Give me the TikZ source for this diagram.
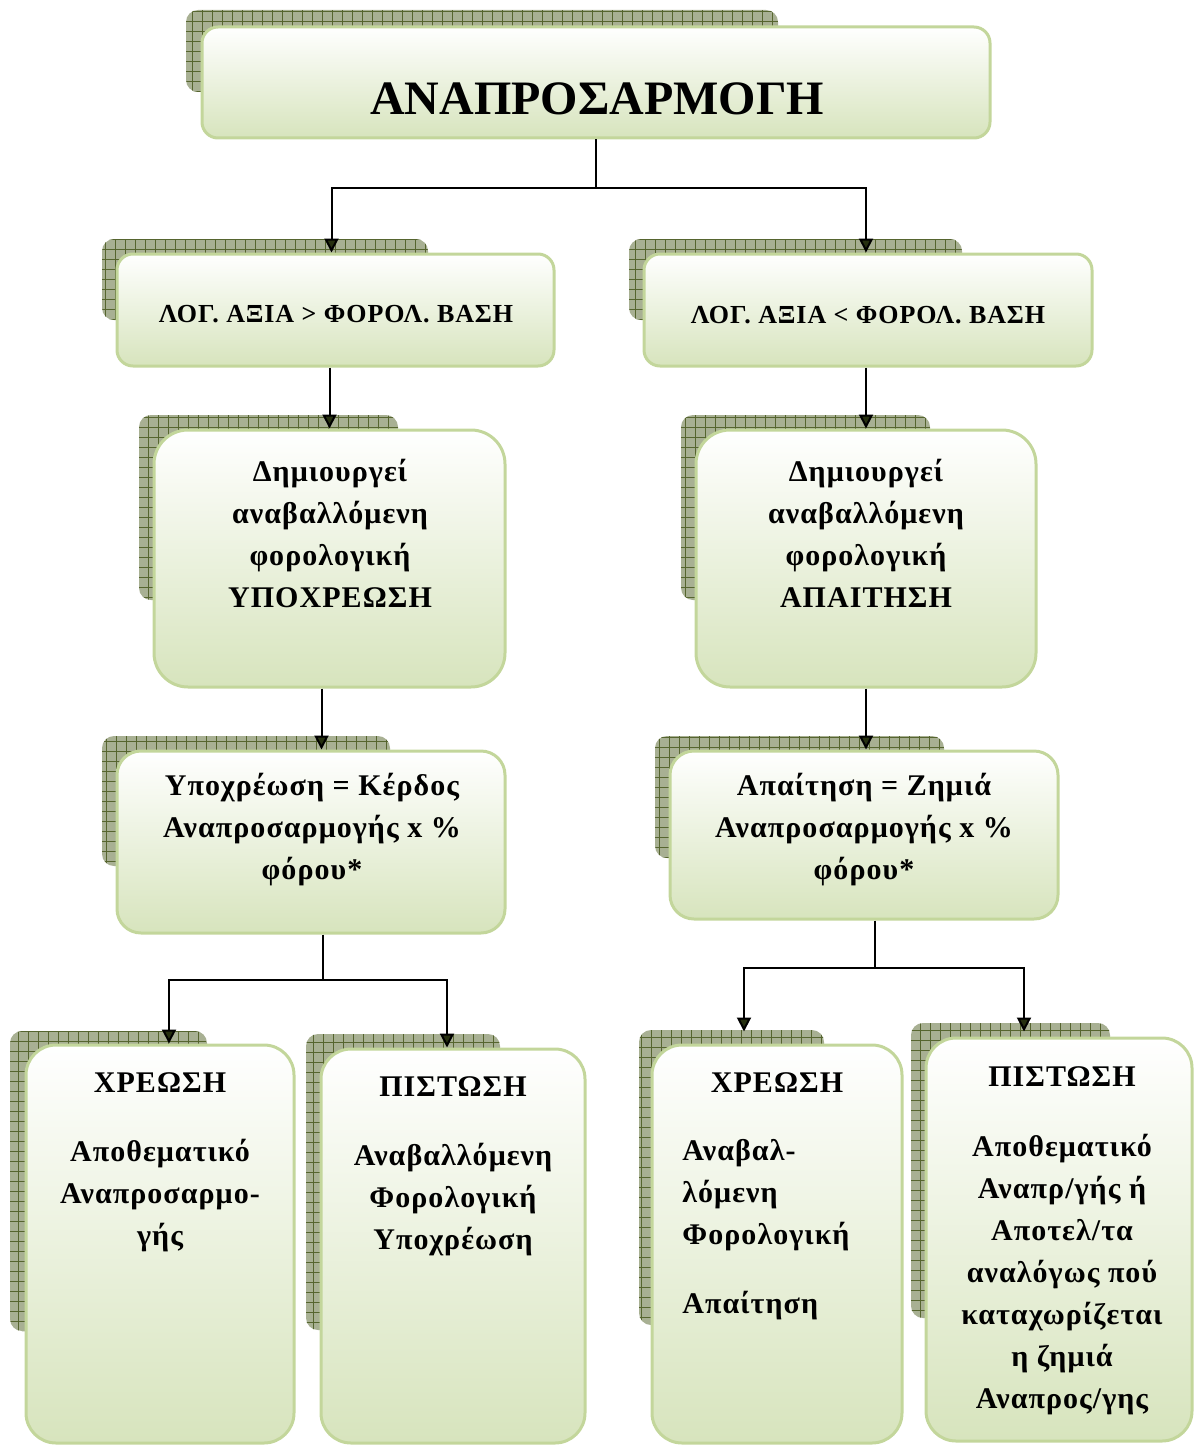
\documentclass[tikz,border=0pt]{standalone}
\usepackage{fontspec}
\setmainfont{Liberation Serif}
\newfontfamily\spaced[LetterSpace=3.5]{Liberation Serif}
\usetikzlibrary{arrows.meta,calc}

\definecolor{boxgreen}{HTML}{D7E4BD}
\definecolor{boxline}{HTML}{C3D69B}
\definecolor{shadowfill}{HTML}{A8B093}
\definecolor{shadowgrid}{HTML}{56652F}
\definecolor{tipcol}{HTML}{263010}

\tikzset{
  panel/.style={draw=boxline, line width=1.5pt, top color=white, bottom color=boxgreen, rounded corners=#1},
  panel/.default=8pt,
  backdrop/.style={fill=shadowfill, rounded corners=6pt,
    path picture={\draw[shadowgrid, line width=0.35pt] (path picture bounding box.south west) grid[step=5pt] (path picture bounding box.north east);}},
  txt/.style={font=\spaced\bfseries\fontsize{15}{21}\selectfont, align=center, inner sep=0pt},
  arr/.style={line width=1pt, -{Triangle[width=7pt,length=7pt,fill=tipcol]}}
}

\begin{document}
\begin{tikzpicture}[x=0.5pt, y=-0.5pt]
\useasboundingbox (0,0) rectangle (1194,1445);

% top level
\node[backdrop, minimum width=296pt, minimum height=41pt] (sTop) at (482,51) {};
\node[panel, minimum width=394pt, minimum height=55.5pt] (top) at (596,82.5) {};
\node[txt, font=\rmfamily\bfseries\fontsize{24}{28}\selectfont] (tTop) at (597,99) {ΑΝΑΠΡΟΣΑΡΜΟΓΗ};

% comparison
\node[backdrop, minimum width=163pt, minimum height=40.5pt] (sL1) at (265,279.5) {};
\node[panel, minimum width=218.5pt, minimum height=56pt] (L1) at (335.5,310) {};
\node[txt, font=\spaced\bfseries\fontsize{13}{15}\selectfont] (tL1) at (336,314) {ΛΟΓ. ΑΞΙΑ > ΦΟΡΟΛ. ΒΑΣΗ};

\node[backdrop, minimum width=166.5pt, minimum height=40.5pt] (sR1) at (795.5,279.5) {};
\node[panel, minimum width=224pt, minimum height=56pt] (R1) at (868,310) {};
\node[txt, font=\spaced\bfseries\fontsize{13}{15}\selectfont] (tR1) at (868,315) {ΛΟΓ. ΑΞΙΑ < ΦΟΡΟΛ. ΒΑΣΗ};

% deferred tax
\node[backdrop, minimum width=129.5pt, minimum height=92.5pt] (sL2) at (268.5,507.5) {};
\node[panel=17pt, minimum width=175.5pt, minimum height=128.5pt] (L2) at (329.5,558.5) {};
\node[txt] (tL2) at (330,533) {Δημιουργεί\\αναβαλλόμενη\\φορολογική\\ΥΠΟΧΡΕΩΣΗ};

\node[backdrop, minimum width=124.5pt, minimum height=92.5pt] (sR2) at (805.5,507.5) {};
\node[panel=17pt, minimum width=170pt, minimum height=128.5pt] (R2) at (866,558.5) {};
\node[txt] (tR2) at (866,533) {Δημιουργεί\\αναβαλλόμενη\\φορολογική\\ΑΠΑΙΤΗΣΗ};

% amount
\node[backdrop, minimum width=144pt, minimum height=65pt] (sL3) at (246,801) {};
\node[panel=12pt, minimum width=194pt, minimum height=91pt] (L3) at (311,842) {};
\node[txt] (tL3) at (312,830) {Υποχρέωση = Κέρδος\\Αναπροσαρμογής x \%\\φόρου*};

\node[backdrop, minimum width=144.5pt, minimum height=61pt] (sR3) at (799.5,797) {};
\node[panel=12pt, minimum width=194pt, minimum height=84pt] (R3) at (864,835) {};
\node[txt] (tR3) at (864,830) {Απαίτηση = Ζημιά\\Αναπροσαρμογής x \%\\φόρου*};

% entries
\node[backdrop, minimum width=98.5pt, minimum height=150pt] (sL4a) at (108.5,1181) {};
\node[panel=15pt, minimum width=134pt, minimum height=199pt] (L4a) at (160,1244) {};
\node[txt] (hL4a) at (160,1083) {ΧΡΕΩΣΗ};
\node[txt] (bL4a) at (160,1196) {Αποθεματικό\\Αναπροσαρμο-\\γής};

\node[backdrop, minimum width=97pt, minimum height=148pt] (sL4b) at (403,1182) {};
\node[panel=15pt, minimum width=132pt, minimum height=197pt] (L4b) at (453,1246) {};
\node[txt] (hL4b) at (453,1087) {ΠΙΣΤΩΣΗ};
\node[txt] (bL4b) at (453,1200) {Αναβαλλόμενη\\Φορολογική\\Υποχρέωση};

\node[backdrop, minimum width=92.5pt, minimum height=147.5pt] (sR4a) at (731.5,1177.5) {};
\node[panel=15pt, minimum width=125pt, minimum height=199pt] (R4a) at (777,1244) {};
\node[txt] (hR4a) at (777,1083) {ΧΡΕΩΣΗ};
\node[txt, align=left, anchor=west] (bR4a) at (682,1230) {Αναβαλ-\\λόμενη\\Φορολογική\\[13.5pt]Απαίτηση};

\node[backdrop, minimum width=99.5pt, minimum height=147.5pt] (sR4b) at (1010.5,1170.5) {};
\node[panel=15pt, minimum width=133pt, minimum height=201.5pt] (R4b) at (1059,1239.5) {};
\node[txt] (hR4b) at (1062,1077) {ΠΙΣΤΩΣΗ};
\node[txt] (bR4b) at (1062,1275) {Αποθεματικό\\Αναπρ/γής ή\\Αποτελ/τα\\αναλόγως πού\\καταχωρίζεται\\η ζημιά\\Αναπρος/γης};

% connectors
\coordinate (j1) at (596,188);
\coordinate (j3) at (323,980);
\coordinate (j4) at (875,968);

\draw[line width=1pt] (top.south) -- (j1);
\draw[arr] (j1) -| ([xshift=-2pt]L1.north);
\draw[arr] (j1) -| ([xshift=-1pt]R1.north);
\draw[arr] (L1.south -| L2.north) -- (L2.north);
\draw[arr] (R1.south -| R2.north) -- (R2.north);
\draw[arr] ([xshift=-4pt]L2.south) -- ([xshift=-4pt]L2.south |- L3.north);
\draw[arr] (R2.south) -- (R2.south |- R3.north);
\draw[line width=1pt] (L3.south -| j3) -- (j3);
\draw[arr] (j3) -| ([xshift=4.5pt]L4a.north);
\draw[arr] (j3) -| ([xshift=-3pt]L4b.north);
\draw[line width=1pt] (R3.south -| j4) -- (j4);
\draw[arr] (j4) -| ([xshift=-16.5pt,yshift=6pt]R4a.north);
\draw[arr] (j4) -| ([xshift=-17.5pt,yshift=2.5pt]R4b.north);
\end{tikzpicture}
\end{document}
